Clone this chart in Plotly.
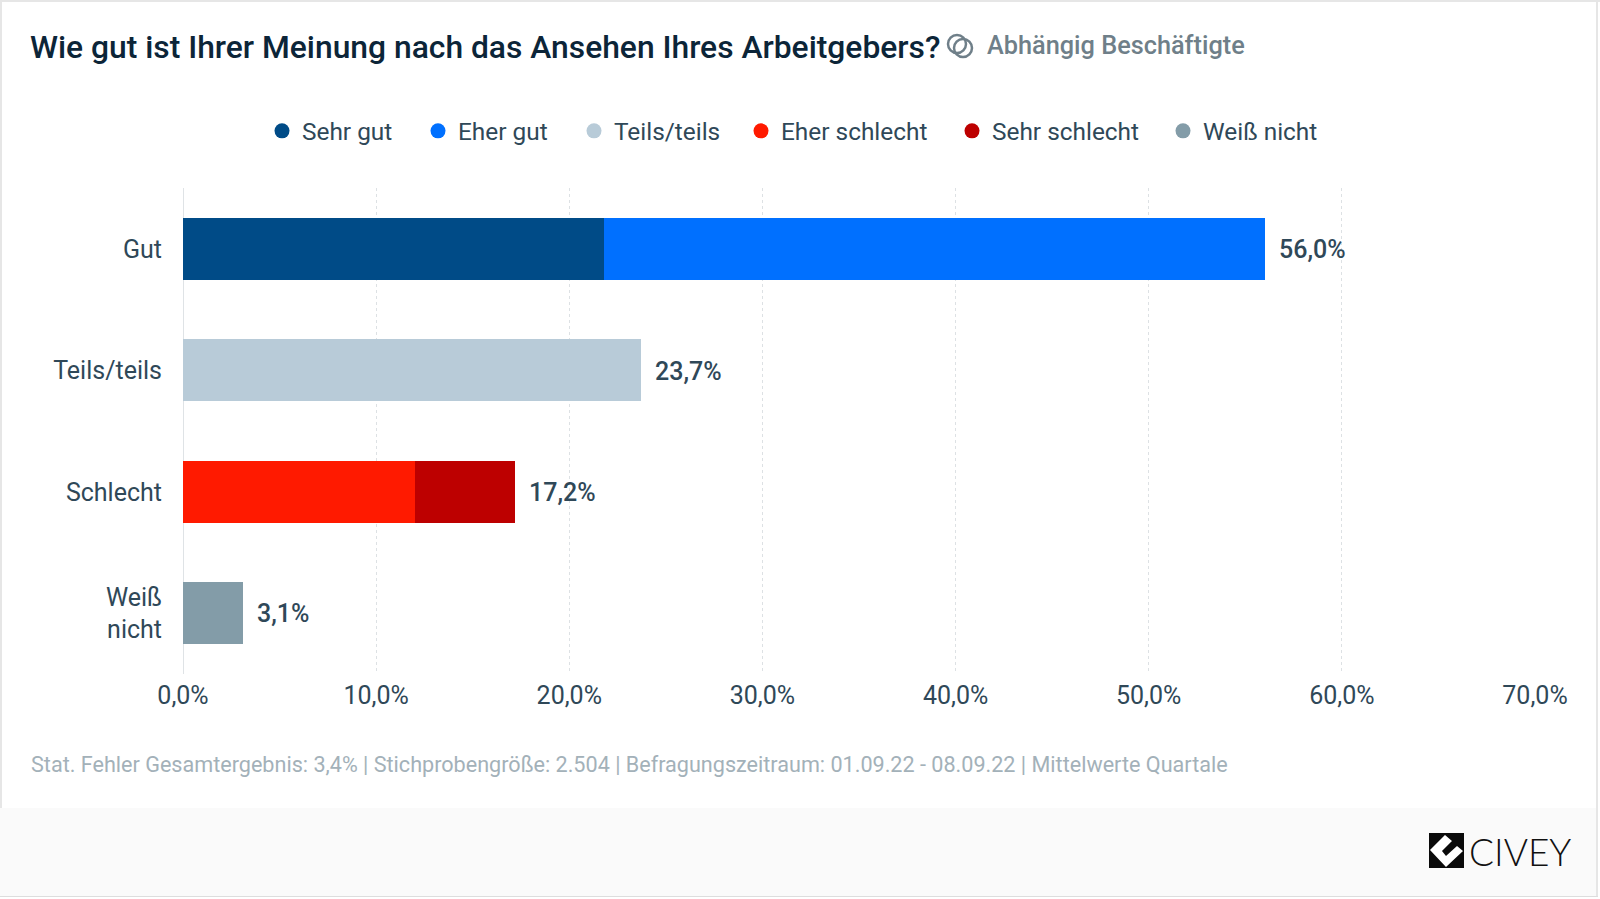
import plotly.graph_objects as go

categories = ["Gut", "Teils/teils", "Schlecht", "Weiß<br>nicht"]
series_names = ["Sehr gut", "Eher gut", "Teils/teils", "Eher schlecht", "Sehr schlecht", "Weiß nicht"]
series_colors = ["#004b87", "#0070ff", "#b8cbd8", "#ff1a00", "#bd0000", "#839ca8"]
sehr_gut = [21.8, None, None, None]
eher_gut = [34.2, None, None, None]
teils = [None, 23.7, None, None]
eher_schlecht = [None, None, 12.0, None]
sehr_schlecht = [None, None, 5.2, None]
weiss_nicht = [None, None, None, 3.1]
series_values = [sehr_gut, eher_gut, teils, eher_schlecht, sehr_schlecht, weiss_nicht]
totals = [56.0, 23.7, 17.2, 3.1]
total_labels = ["56,0%", "23,7%", "17,2%", "3,1%"]
tick_values = [0, 10, 20, 30, 40, 50, 60, 70]
tick_labels = ["0,0%", "10,0%", "20,0%", "30,0%", "40,0%", "50,0%", "60,0%", "70,0%"]
title = "Wie gut ist Ihrer Meinung nach das Ansehen Ihres Arbeitgebers?"
subtitle = "Abhängig Beschäftigte"
footnote = "Stat. Fehler Gesamtergebnis: 3,4% | Stichprobengröße: 2.504 | Befragungszeitraum: 01.09.22 - 08.09.22 | Mittelwerte Quartale"

W, H = 1600, 899
L, R, T, B = 183, 65, 188, 225
PW, PH = W - L - R, H - T - B
px = lambda x: (x - L) / PW
py = lambda y: 1 - (y - T) / PH
FONT = "Roboto"
DARK = "#2f4858"
GREY = "#6f7f89"

fig = go.Figure()
for name, color, vals in zip(series_names, series_colors, series_values):
    fig.add_trace(go.Bar(name=name, y=categories, x=vals, orientation="h",
                         marker=dict(color=color, line=dict(width=0)),
                         showlegend=False, legendgroup=name))

# Legend: one circular-marker key per series
legend_text_x = [302, 458, 614, 781, 992, 1203]
layout_legends = {}
for i, (name, color) in enumerate(zip(series_names, series_colors)):
    key = "legend" if i == 0 else f"legend{i+1}"
    fig.add_trace(go.Scatter(name=name, x=[None], y=[None], mode="markers",
                             marker=dict(color=color, size=15), legendgroup=name,
                             legend=key, showlegend=True))
    layout_legends[key] = dict(x=px(legend_text_x[i] - 40), xanchor="left", y=py(131), yanchor="middle",
                               orientation="h", bgcolor="rgba(0,0,0,0)", borderwidth=0,
                               font=dict(family=FONT, size=24.4, color=DARK),
                               itemclick=False, itemdoubleclick=False)

annotations = []
for cat, total, lab in zip(categories, totals, total_labels):
    annotations.append(dict(x=total, y=cat, xref="x", yref="y", text=lab, showarrow=False,
                            xanchor="left", xshift=12, yshift=-1 if lab != "3,1%" else 0, yanchor="middle",
                            font=dict(family=FONT, size=25, color=DARK, weight=500)))
annotations += [
    dict(x=px(28), y=py(47), xref="paper", yref="paper", text=title, showarrow=False, xanchor="left",
         yanchor="middle", font=dict(family=FONT, size=31.8, color="#0c2538", weight=500)),
    dict(x=px(985), y=py(46), xref="paper", yref="paper", text=subtitle, showarrow=False, xanchor="left",
         yanchor="middle", font=dict(family=FONT, size=25.3, color=GREY, weight=500)),
    dict(x=px(29), y=py(764), xref="paper", yref="paper", text=footnote, showarrow=False, xanchor="left",
         yanchor="middle", font=dict(family=FONT, size=21.6, color="#a3b1b9")),
    dict(x=px(1467), y=py(851), xref="paper", yref="paper", text="CIVEY", showarrow=False, xanchor="left",
         yanchor="middle", font=dict(family="Lato", size=37, color="#111111", weight=300)),
]

def rect(x0, y0, x1, y1, color, layer="below"):
    return dict(type="rect", xref="paper", yref="paper", x0=px(x0), x1=px(x1), y0=py(y0), y1=py(y1),
                fillcolor=color, line=dict(width=0), layer=layer)

def pth(points, fill):
    d = "M " + " L ".join(f"{px(a):.5f},{py(b):.5f}" for a, b in points) + " Z"
    return dict(type="path", xref="paper", yref="paper", path=d, fillcolor=fill, line=dict(width=0))

def ring(cx, cy, r):
    return dict(type="circle", xref="paper", yref="paper", x0=px(cx - r), x1=px(cx + r),
                y0=py(cy + r), y1=py(cy - r), line=dict(color=GREY, width=2.5))

shapes = [
    rect(0, 0, W, 2, "#e6e6e6"), rect(0, 0, 2, 896, "#e6e6e6"), rect(1596, 0, 1598, 896, "#e6e6e6"),
    rect(0, 808, 1596, 896, "#fafafa"), rect(0, 896, 1598, 897, "#dddddd"),
    ring(957, 44, 9), ring(963, 48, 9),
    rect(1429, 833, 1464, 868, "#0a0a0a", layer="above"),
    pth([(1430, 850), (1445, 835), (1452, 841), (1442, 851), (1446, 856), (1457, 846), (1463, 851), (1446, 867)], "#ffffff"),
]

fig.update_layout(
    width=W, height=H, margin=dict(l=L, r=R, t=T, b=B, pad=0, autoexpand=False),
    paper_bgcolor="#ffffff", plot_bgcolor="#ffffff",
    barmode="stack", bargap=0.49, annotations=annotations, shapes=shapes,
    font=dict(family=FONT, color=DARK),
    xaxis=dict(range=[0, 70], tickmode="array", tickvals=tick_values, ticktext=tick_labels,
               showgrid=True, gridcolor="#dde1e4", griddash="dot", gridwidth=1,
               zeroline=True, zerolinecolor="#dfe3e6", zerolinewidth=1, showline=False, ticks="",
               ticklabelstandoff=4, tickfont=dict(family=FONT, size=25, color=DARK)),
    yaxis=dict(categoryorder="array", categoryarray=categories, autorange="reversed",
               showgrid=False, zeroline=False, showline=False, ticks="", ticklabelstandoff=20,
               tickfont=dict(family=FONT, size=25, color=DARK)),
    **layout_legends,
)
fig.write_html("out.html", config=dict(displayModeBar=False),
               post_script="document.body.style.margin='0';document.body.style.overflow='hidden';")
